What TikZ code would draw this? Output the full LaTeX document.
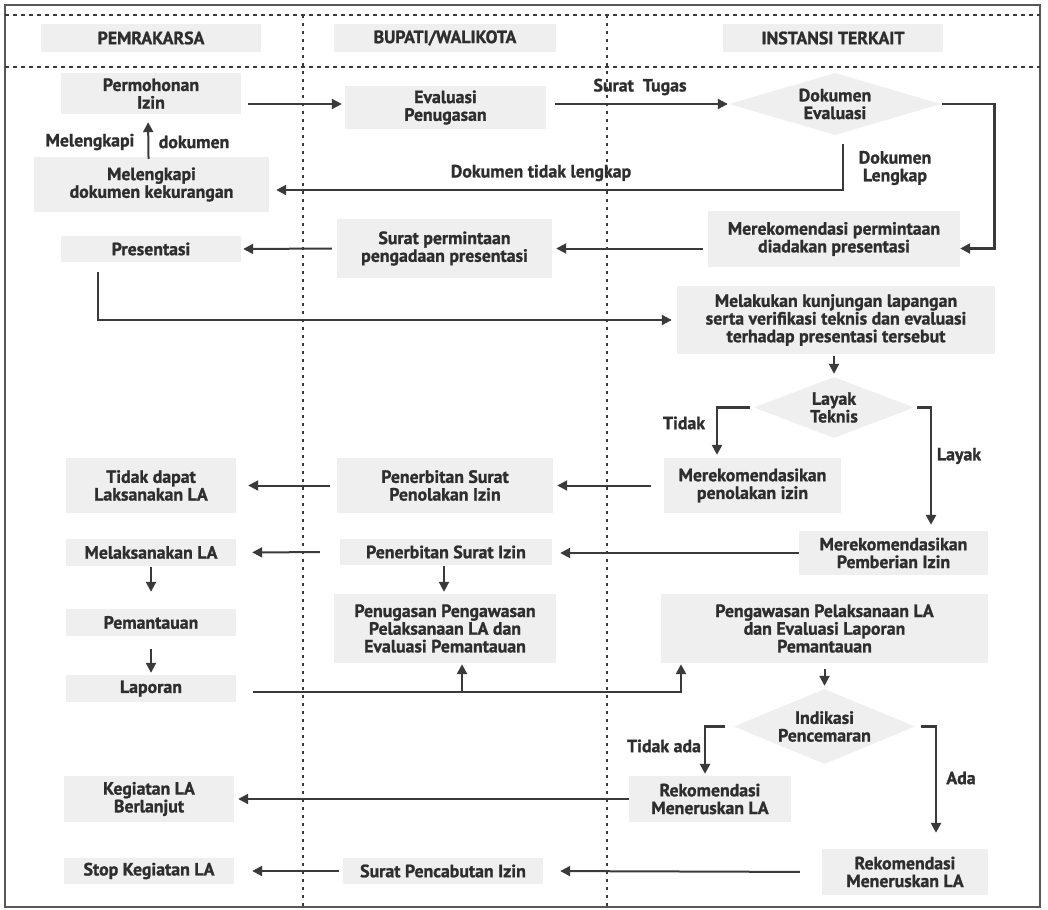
\documentclass[tikz,border=0pt]{standalone}
\usepackage{fontspec}
\setmainfont{PT Sans}[BoldFeatures={FakeBold=1.2}]
\usetikzlibrary{positioning,arrows.meta,shapes.geometric,calc}
\definecolor{boxgray}{HTML}{EFEFEF}
\definecolor{inkgray}{HTML}{2E2E2E}
\definecolor{linegray}{HTML}{3A3A3A}

\begin{document}
\begin{tikzpicture}[
    x=1pt, y=-1pt,
    txt/.style     ={text=inkgray, font=\fontsize{17.8}{17.7}\selectfont\bfseries, align=center},
    box/.style     ={txt, fill=boxgray, inner sep=0pt},
    hdr/.style     ={box, minimum width=220, minimum height=28},
    dec/.style     ={txt, diamond, aspect=2.5, fill=boxgray, inner sep=0pt},
    lbl/.style     ={txt, inner sep=0pt},
    arr/.style     ={-{Triangle[length=10pt,width=10pt]}, line width=2pt, draw=linegray},
    arrthick/.style={arr, line width=2.8pt},
    lane/.style    ={draw=linegray, line width=1.5pt, dash pattern=on 3pt off 5pt}
]
\useasboundingbox (0,0) rectangle (1048,909);

% frame and swimlanes
\draw[draw=linegray!85, line width=2pt] (5,5) rectangle (1040,907);
\draw[lane, dash pattern=on 4pt off 4pt] (5,15) -- (1040,15);
\draw[lane, dash pattern=on 4pt off 4pt] (5,67) -- (1040,67);
\draw[lane] (303,15) -- (303,907);
\draw[lane] (607,15) -- (607,907);

\node[hdr] (hpem) at (151,38)  {PEMRAKARSA};
\node[hdr, minimum width=222] (hbup) at (445,38)  {BUPATI/WALIKOTA};
\node[hdr] (hins) at (833,38)  {INSTANSI TERKAIT};

% steps
\node[box, minimum width=180, minimum height=41] (perm)    at (151,93.5)   {Permohonan\\Izin};
\node[box, minimum width=201, minimum height=43] (evalp)   at (445.5,107.5) {Evaluasi\\Penugasan};
\node[dec, minimum width=212, minimum height=62] (doc)     at (835,104)    {Dokumen\\Evaluasi};
\node[box, minimum width=235, minimum height=55] (lengk)   at (151.5,184.5) {Melengkapi\\dokumen kekurangan};
\node[box, minimum width=252, minimum height=56] (rekpres) at (834,239)    {Merekomendasi permintaan\\diadakan presentasi};
\node[box, minimum width=215, minimum height=59] (srtpres) at (444.5,248.5) {Surat permintaan\\pengadaan presentasi};
\node[box, minimum width=180, minimum height=26] (pres)    at (151,249)    {Presentasi};
\node[box, minimum width=318, minimum height=68] (kunj)    at (836,320)    {Melakukan kunjungan lapangan\\serta verifikasi teknis dan evaluasi\\terhadap presentasi tersebut};
\node[dec, minimum width=160, minimum height=61] (layak)   at (834,407.5)  {Layak\\Teknis};
\node[box, minimum width=177, minimum height=55] (tolak)   at (752.5,485.5) {Merekomendasikan\\penolakan izin};
\node[box, minimum width=216, minimum height=55] (tolakizin) at (445,485.5) {Penerbitan Surat\\Penolakan Izin};
\node[box, minimum width=170, minimum height=55] (tdkdapat) at (151,485.5)  {Tidak dapat\\Laksanakan LA};
\node[box, minimum width=189, minimum height=44] (beri)    at (893.5,553)  {Merekomendasikan\\Pemberian Izin};
\node[box, minimum width=212, minimum height=26] (izin)    at (446,552)    {Penerbitan Surat Izin};
\node[box, minimum width=170, minimum height=27] (laks)    at (151,552.5)  {Melaksanakan LA};
\node[box, minimum width=222, minimum height=69] (tugas)   at (445,628.5)  {Penugasan Pengawasan\\Pelaksanaan LA dan\\Evaluasi Pemantauan};
\node[box, minimum width=327, minimum height=69] (awas)    at (824.5,628.5) {Pengawasan Pelaksanaan LA\\dan Evaluasi Laporan\\Pemantauan};
\node[box, minimum width=170, minimum height=27] (pantau)  at (151,622.5)  {Pemantauan};
\node[box, minimum width=170, minimum height=27] (lapor)   at (151,688.5)  {Laporan};
\node[dec, minimum width=181, minimum height=75] (indik)   at (824.5,726.5) {Indikasi\\Pencemaran};
\node[box, minimum width=162, minimum height=46] (rekl)    at (710,799)    {Rekomendasi\\Meneruskan LA};
\node[box, minimum width=170, minimum height=46] (lanjut)  at (149,799)    {Kegiatan LA\\Berlanjut};
\node[box, minimum width=166, minimum height=46] (rekc)    at (905,872)    {Rekomendasi\\Meneruskan LA};
\node[box, minimum width=200, minimum height=26] (cabut)   at (443,871)    {Surat Pencabutan Izin};
\node[box, minimum width=170, minimum height=26] (stop)    at (149,871)    {Stop Kegiatan LA};

% labels
\node[lbl] (ltugas)   at (640,87)  {Surat\ \ Tugas};
\node[lbl] (ltdklkp)  at (541,173) {Dokumen tidak lengkap};
\node[lbl] (llkp)     at (895,168) {Dokumen\\Lengkap};
\node[lbl] (lmel)     at (90,142)  {Melengkapi};
\node[lbl] (ldok)     at (194,142) {dokumen};
\node[lbl] (ltidak)   at (684,423) {Tidak};
\node[lbl] (llayak)   at (959,456) {Layak};
\node[lbl] (ltdkada)  at (664,746) {Tidak ada};
\node[lbl] (lada)     at (961,778) {Ada};

% connectors
\draw[arr, shorten <=7pt, shorten >=3pt] (perm.east |- doc) -- (evalp.west |- doc);
\draw[arr, shorten <=9pt, shorten >=1pt] (evalp.east |- doc) -- (doc.west);
\draw[arrthick] ([xshift=1pt]doc.east) -- ++(52,0) |- (rekpres.east |- srtpres);
\draw[arr, shorten >=7pt] ([xshift=8pt,yshift=-9pt]doc.south) |- ([yshift=-5.5pt]lengk.east);
\draw[arr, shorten <=-2pt, shorten >=8pt] ([xshift=-3pt]lengk.north) -- ([xshift=-3pt]perm.south);
\draw[arr, shorten <=5pt, shorten >=4pt] (rekpres.west |- srtpres) -- (srtpres.east);
\draw[arr, shorten <=5pt, shorten >=2pt] (srtpres.west) -- (pres.east);
\draw[arr, shorten <=10pt, shorten >=5pt] ([xshift=-53pt]pres.south) |- (kunj.west);
\draw[arr, shorten <=2pt, shorten >=3pt] (kunj.south -| layak.north) -- (layak.north);
\draw[arrthick, shorten >=3pt] ([xshift=-4pt]layak.west) -| ([xshift=-35.5pt]tolak.north);
\draw[arrthick, shorten >=6pt] ([xshift=3pt]layak.east) -| ([xshift=37.5pt]beri.north);
\draw[arr, shorten <=13pt, shorten >=4pt] (tolak.west) -- (tolakizin.east);
\draw[arr, shorten <=7pt, shorten >=12pt] (tolakizin.west) -- (tdkdapat.east);
\draw[arr, shorten >=8pt] (beri.west) -- (beri.west -| izin.east);
\draw[arr, shorten <=20pt, shorten >=16pt] (izin.west) -- (laks.east);
\draw[arr, shorten <=1pt, shorten >=17pt] (laks) -- (pantau);
\draw[arr, shorten <=13pt, shorten >=2pt] (pantau) -- (lapor);
\draw[arr, shorten <=1pt, shorten >=2pt] ([xshift=-2pt]izin.south) -- ([xshift=-2pt]izin.south |- tugas.north);
\coordinate (fork) at (462,692);
\draw[arrthick, shorten <=17pt, shorten >=1pt] ([yshift=-3.5pt]lapor.east) -| ([xshift=-143.5pt]awas.south);
\draw[arrthick, shorten >=1pt] (fork) -- (fork |- tugas.south);
\draw[arr, shorten <=6pt, shorten >=3pt] (awas) -- (indik);
\draw[arrthick, shorten >=2pt] ([xshift=-9pt]indik.west) -| ([xshift=-5pt]rekl.north);
\draw[arrthick, shorten >=16pt] ([xshift=6pt]indik.east) -| ([xshift=31pt]rekc.north);
\draw[arr, shorten >=4pt] (rekl.west) -- (lanjut.east);
\draw[arr, shorten <=22pt, shorten >=17pt] (rekc.west) -- (cabut.east);
\draw[arr, shorten <=4pt, shorten >=18pt] (cabut.west) -- (stop.east);

\end{tikzpicture}
\end{document}
